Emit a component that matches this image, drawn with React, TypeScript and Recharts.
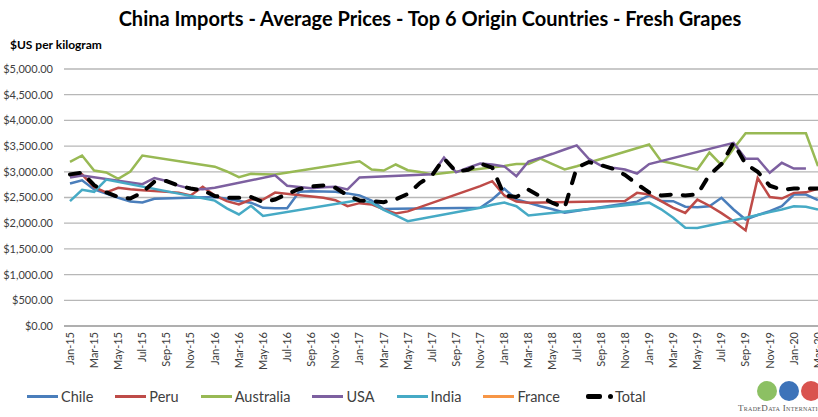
import React from 'react';
import { LineChart, Line, XAxis, YAxis, CartesianGrid } from 'recharts';

const months = [
  'Jan-15', 'Feb-15', 'Mar-15', 'Apr-15', 'May-15', 'Jun-15', 'Jul-15', 'Aug-15', 'Sep-15', 'Oct-15', 'Nov-15', 'Dec-15',
  'Jan-16', 'Feb-16', 'Mar-16', 'Apr-16', 'May-16', 'Jun-16', 'Jul-16', 'Aug-16', 'Sep-16', 'Oct-16', 'Nov-16', 'Dec-16',
  'Jan-17', 'Feb-17', 'Mar-17', 'Apr-17', 'May-17', 'Jun-17', 'Jul-17', 'Aug-17', 'Sep-17', 'Oct-17', 'Nov-17', 'Dec-17',
  'Jan-18', 'Feb-18', 'Mar-18', 'Apr-18', 'May-18', 'Jun-18', 'Jul-18', 'Aug-18', 'Sep-18', 'Oct-18', 'Nov-18', 'Dec-18',
  'Jan-19', 'Feb-19', 'Mar-19', 'Apr-19', 'May-19', 'Jun-19', 'Jul-19', 'Aug-19', 'Sep-19', 'Oct-19', 'Nov-19', 'Dec-19',
  'Jan-20', 'Feb-20', 'Mar-20',
];

// $US per kg, null = no shipments that month (Excel joins the gap)
const chile = [
  2772, 2835, 2656, 2578, 2494, 2420, 2405, 2475, null, null,
  null, null, 2510, 2475, 2430, 2400, 2300, 2290, 2290, 2610,
  2620, 2615, 2610, 2580, 2540, 2440, 2275, 2280, null, null,
  null, null, null, null, 2300, 2460, 2670, 2460, 2397, 2330,
  2270, 2205, null, null, null, null, null, 2420, 2540, 2430,
  2428, 2320, 2310, 2330, 2494, 2267, 2072, 2160, 2234, 2331,
  2558, 2558, 2450,
];
const peru = [
  2930, 2950, 2700, 2600, 2690, 2660, 2640, null, null, 2595,
  2540, 2710, 2540, 2430, 2365, 2461, 2461, 2595, null, null,
  null, 2494, 2448, 2331, 2390, 2365, 2270, 2190, 2230, null,
  null, null, null, null, 2720, 2817, 2540, 2420, 2400, null,
  null, null, null, null, null, null, 2430, 2590, 2560, 2430,
  2300, 2200, 2460, 2340, 2195, 2040, 1860, 2880, 2510, 2480,
  2590, 2600, 2670,
];
const australia = [
  3195, 3317, 3025, 2987, 2864, 3006, 3317, null, null, null,
  null, null, 3100, 3006, 2895, 2961, 2954, 2948, null, null,
  null, null, null, null, 3206, 3045, 3025, 3142, 3031, 2996,
  2950, null, null, null, null, null, 3115, 3150, 3150, 3255,
  3150, 3045, 3109, null, null, null, null, null, 3531, 3206,
  3160, 3100, 3045, 3375, 3130, 3447, 3750, null, null, null,
  null, 3750, 3110,
];
const usa = [
  2890, 2930, null, null, null, null, 2760, 2880, 2820, 2730,
  2670, 2660, 2690, null, null, null, null, 2930, 2730, 2705,
  2680, 2700, 2710, 2656, 2890, null, null, null, null, null,
  2950, 3275, 2990, 3080, 3160, 3140, 3105, 2915, 3200, 3272,
  3350, 3434, 3515, 3253, 3120, 3078, 3045, 2967, 3150, null,
  null, null, null, null, null, 3564, 3253, 3253, 2980, 3175,
  3064, 3064, null,
];
const india = [
  2430, 2650, 2610, 2850, null, null, null, null, null, null,
  null, null, 2440, 2290, 2170, 2340, 2140, null, null, null,
  null, null, null, null, 2450, 2400, 2260, 2150, 2040, null,
  null, null, null, null, 2300, 2360, 2400, 2330, 2150, null,
  null, null, null, null, null, null, null, null, 2400, 2270,
  2105, 1910, 1905, null, null, null, 2105, 2160, 2215, 2267,
  2330, 2320, 2265,
];
const france: (number | null)[] = months.map(() => null);
const total = [
  2950, 2985, 2740, 2600, 2510, 2480, 2600, 2810, 2820, 2730,
  2675, 2640, 2530, 2494, 2494, 2510, 2410, 2460, 2570, 2665,
  2715, 2735, 2690, 2540, 2440, 2430, 2410, 2465, 2570, 2780,
  2930, 3260, 3000, 3040, 3160, 3080, 2540, 2510, 2650, 2520,
  2395, 2300, 3080, 3190, 3130, 3060, 2940, 2760, 2600, 2540,
  2558, 2540, 2560, 2940, 3150, 3560, 3150, 3000, 2730, 2650,
  2675, 2675, 2675,
];

const yTicks = [0, 500, 1000, 1500, 2000, 2500, 3000, 3500, 4000, 4500, 5000];

const series = [
  { name: 'Chile', color: '#4A7EBB', values: chile },
  { name: 'Peru', color: '#BE4B48', values: peru },
  { name: 'Australia', color: '#98B954', values: australia },
  { name: 'USA', color: '#7D60A0', values: usa },
  { name: 'India', color: '#46AAC5', values: india },
  { name: 'France', color: '#F79646', values: france },
];

const data = months.map((m, i) => {
  const row: Record<string, string | number | null> = { month: m, Total: total[i] };
  series.forEach((s) => { row[s.name] = s.values[i]; });
  return row;
});

const FONT = "Lato, 'Liberation Sans', sans-serif";

const fmtUsd = (v: number) =>
  '$' + v.toLocaleString('en-US', { minimumFractionDigits: 2, maximumFractionDigits: 2 });

const MonthTick = (props: any) => {
  const { x, y, payload } = props;
  return (
    <text
      x={x}
      y={y}
      dy="0.35em"
      textAnchor="end"
      transform={`rotate(-90, ${x}, ${y})`}
      fontSize={11}
      fontFamily={FONT}
      fill="#404040"
    >
      {payload.value}
    </text>
  );
};

const LegendRow = () => (
  <div
    style={{
      position: 'absolute', left: 27, top: 388, display: 'flex', alignItems: 'center',
      gap: 22, fontSize: 14.5, color: '#404040', fontFamily: FONT,
    }}
  >
    {series.map((s) => (
      <div key={s.name} style={{ display: 'flex', alignItems: 'center' }}>
        <span style={{ width: 31, height: 3, background: s.color, marginRight: 3 }} />
        <span>{s.name}</span>
      </div>
    ))}
    <div style={{ display: 'flex', alignItems: 'center', marginLeft: 4 }}>
      <span style={{ width: 16, height: 5, background: '#000', borderRadius: 2 }} />
      <span style={{ width: 5, height: 5, background: '#000', borderRadius: 3, marginLeft: 6, marginRight: 2 }} />
      <span>Total</span>
    </div>
  </div>
);

export default function App() {
  return (
    <div
      style={{
        position: 'fixed', left: 0, top: 0, width: 818, height: 417, overflow: 'hidden',
        background: '#fff', fontFamily: FONT,
      }}
    >
      <div
        style={{
          position: 'absolute', left: 0, top: 7, width: 860, textAlign: 'center',
          fontSize: 20, fontWeight: 700, color: '#000', lineHeight: '22px',
        }}
      >
        China Imports - Average Prices - Top 6 Origin Countries - Fresh Grapes
      </div>
      <div style={{ position: 'absolute', left: 10, top: 37, fontSize: 12, fontWeight: 700, color: '#000' }}>
        $US per kilogram
      </div>

      <div style={{ position: 'absolute', left: 0, top: 0 }}>
        <LineChart width={824} height={417} data={data} margin={{ top: 69, right: 0, bottom: 40, left: 0 }}>
          <CartesianGrid vertical={false} stroke="#b7b7b7" strokeWidth={1.3} />
          <XAxis
            dataKey="month"
            interval={1}
            height={51}
            tickSize={0}
            tickMargin={6}
            tickLine={false}
            axisLine={{ stroke: '#a6a6a6', strokeWidth: 1.3 }}
            padding={{ left: 6, right: 6 }}
            tick={<MonthTick />}
          />
          <YAxis
            width={64}
            domain={[0, 5000]}
            ticks={yTicks}
            tickFormatter={fmtUsd}
            axisLine={false}
            tickLine={false}
            tickSize={0}
            tickMargin={11}
            tick={{ fontSize: 11, fill: '#404040', fontFamily: FONT }}
          />
          {series.map((s) => (
            <Line
              key={s.name}
              type="linear"
              dataKey={s.name}
              stroke={s.color}
              strokeWidth={2.5}
              dot={false}
              activeDot={false}
              connectNulls
              isAnimationActive={false}
            />
          ))}
          <Line
            type="linear"
            dataKey="Total"
            stroke="#000"
            strokeWidth={4}
            strokeDasharray="10 12"
            strokeLinecap="round"
            dot={false}
            activeDot={false}
            connectNulls
            isAnimationActive={false}
          />
        </LineChart>
      </div>

      <LegendRow />

      <div style={{ position: 'absolute', left: 757, top: 381 }}>
        <span style={{ position: 'absolute', left: 0, top: 0, width: 20, height: 20, borderRadius: 10, background: '#8cc063' }} />
        <span style={{ position: 'absolute', left: 22, top: 0, width: 20, height: 20, borderRadius: 10, background: '#3d73b9' }} />
        <span style={{ position: 'absolute', left: 44, top: 0, width: 20, height: 20, borderRadius: 10, background: '#d9534f' }} />
      </div>
      <div
        style={{
          position: 'absolute', left: 738, top: 403, fontFamily: "'Liberation Serif', serif",
          fontSize: 9, fontVariant: 'small-caps', color: '#555', whiteSpace: 'nowrap', letterSpacing: 0.3,
        }}
      >
        TradeData International
      </div>
    </div>
  );
}
